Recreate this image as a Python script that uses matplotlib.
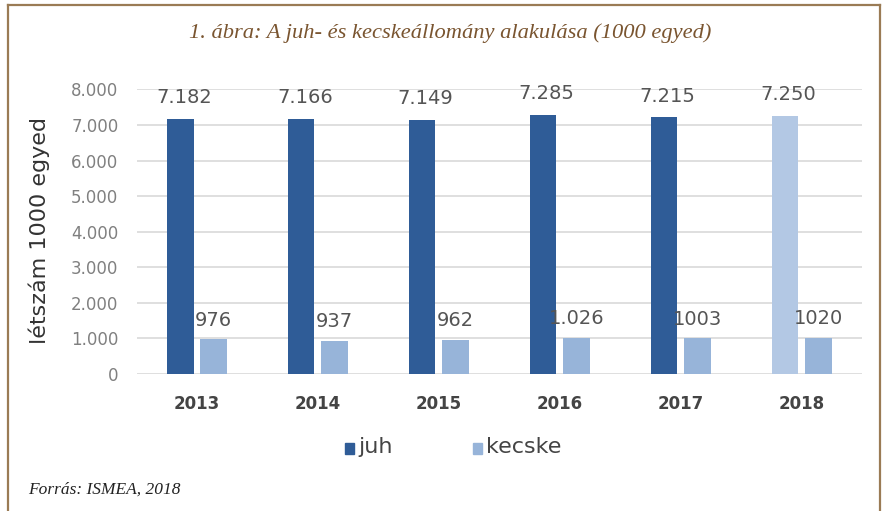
import matplotlib
matplotlib.use("Agg")
import matplotlib.pyplot as plt
from matplotlib.patches import Rectangle
from matplotlib.lines import Line2D
import numpy as np

years = ["2013", "2014", "2015", "2016", "2017", "2018"]
juh = [7182, 7166, 7149, 7285, 7215, 7250]
kecske = [976, 937, 962, 1026, 1003, 1020]
juh_labels = ["7.182", "7.166", "7.149", "7.285", "7.215", "7.250"]
kecske_labels = ["976", "937", "962", "1.026", "1003", "1020"]
yticks = [0, 1000, 2000, 3000, 4000, 5000, 6000, 7000, 8000]
ytick_labels = ["0", "1.000", "2.000", "3.000", "4.000", "5.000", "6.000", "7.000", "8.000"]

W, H = 886, 511
fig = plt.figure(figsize=(W / 100, H / 100), dpi=100)
fig.patch.set_facecolor("white")

dark = "#2F5C97"
light = "#97B4D9"
light2018 = "#B3C8E4"
txt = "#555555"

ax = fig.add_axes([136.5 / W, (H - 374) / H, (862 - 136.5) / W, (374 - 89.4) / H])
x = np.arange(len(years))
bw = 0.22
off = 0.138
juh_colors = [dark] * (len(years) - 1) + [light2018]
ax.bar(x - off, juh, bw, color=juh_colors, zorder=3)
ax.bar(x + off, kecske, bw, color=light, zorder=3)

for i in range(len(years)):
    ax.text(x[i] - off + 0.03, juh[i] + 330, juh_labels[i], ha="center", va="bottom",
            fontsize=14, color=txt, clip_on=False)
    ax.text(x[i] + off - 0.0, kecske[i] + 270, kecske_labels[i], ha="center", va="bottom",
            fontsize=14, color=txt, clip_on=False)

ax.set_xlim(-0.5, len(years) - 0.5)
ax.set_ylim(0, 8000)
ax.set_yticks(yticks)
ax.set_yticklabels(ytick_labels, fontsize=12, color="#808080")
ax.set_xticks(x)
ax.set_xticklabels(years, fontsize=12, fontweight="bold", color="#444444")
ax.tick_params(axis="both", length=0)
ax.tick_params(axis="y", pad=13)
ax.tick_params(axis="x", pad=15)
ax.grid(axis="y", color="#D9D9D9", linewidth=1.2, zorder=0)
for s in ax.spines.values():
    s.set_visible(False)
ax.set_facecolor("white")

fig.text(39 / W, 1 - 230 / H, "létszám 1000 egyed", rotation=90, ha="center", va="center",
         fontsize=16, color="#333333")

# legend
fig.patches.append(Rectangle((345 / W, 1 - 454 / H), 9 / W, 11 / H, transform=fig.transFigure,
                             color=dark, figure=fig))
fig.text(358 / W, 1 - 447 / H, "juh", ha="left", va="center", fontsize=16, color="#444444")
fig.patches.append(Rectangle((473 / W, 1 - 454 / H), 9 / W, 11 / H, transform=fig.transFigure,
                             color=light, figure=fig))
fig.text(486 / W, 1 - 447 / H, "kecske", ha="left", va="center", fontsize=16, color="#444444")

# title and source
fig.text(450 / W, 1 - 33 / H, "1. ábra: A juh- és kecskeállomány alakulása (1000 egyed)",
         ha="center", va="center", fontsize=16.2, style="italic", color="#7A5530",
         family="Liberation Serif")
fig.text(28 / W, 1 - 490 / H, "Forrás: ISMEA, 2018", ha="left", va="center", fontsize=12.5,
         style="italic", color="#222222", family="Liberation Serif")

# frame
bc = "#9A7B55"
fig.lines.append(Line2D([8 / W, 8 / W], [0, 1 - 5 / H], transform=fig.transFigure, color=bc, lw=1.6))
fig.lines.append(Line2D([880 / W, 880 / W], [0, 1 - 5 / H], transform=fig.transFigure, color=bc, lw=1.6))
fig.lines.append(Line2D([8 / W, 880 / W], [1 - 5 / H, 1 - 5 / H], transform=fig.transFigure, color=bc, lw=1.6))

fig.savefig("out.png", dpi=100, facecolor="white")
